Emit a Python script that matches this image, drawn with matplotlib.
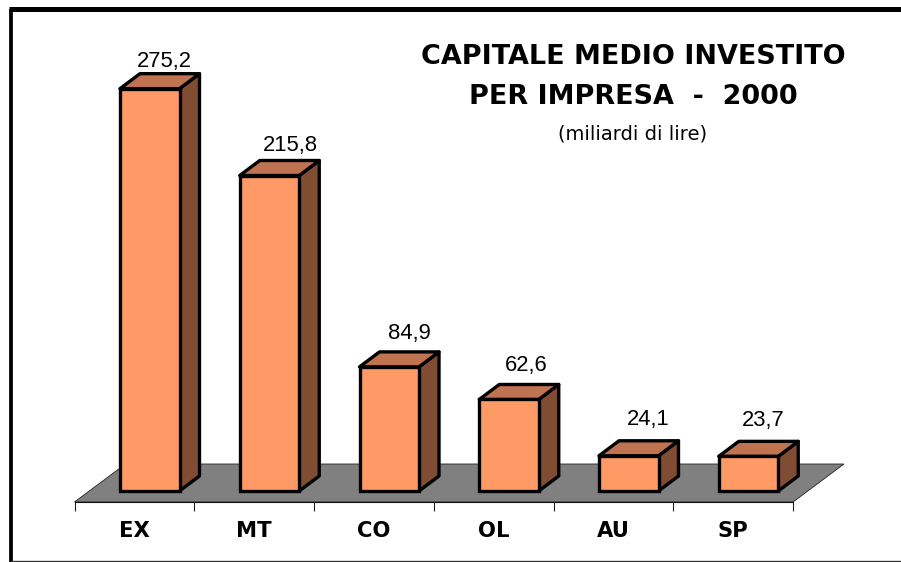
import matplotlib
matplotlib.use("Agg")
import matplotlib.pyplot as plt
from matplotlib.patches import Polygon
from matplotlib.lines import Line2D

categories = ["EX", "MT", "CO", "OL", "AU", "SP"]
values = [275.2, 215.8, 84.9, 62.6, 24.1, 23.7]
value_labels = ["275,2", "215,8", "84,9", "62,6", "24,1", "23,7"]

W, H = 901, 562
FRONT = "#FF9966"
SIDE = "#804D33"
TOP = "#BF7350"
FLOOR = "#808080"

# label placement relative to the bar's back-top corner centre, in pixels
label_nudge_x = [-5.5, 0.5, 0, -3, -1, -5]
label_gap_y = [12, 15, 18.5, 19, 21, 21]

fig = plt.figure(figsize=(W / 100, H / 100), dpi=100, facecolor="white")

x_left, x_right = 74.5, 793.0
px_per_cat = (x_right - x_left) / 6
px_per_val = 1.462
y_zero_px = 491.0
y_floor_px = 502.0
y_top_px = 20.0

ax = fig.add_axes([x_left / W, 1 - y_floor_px / H, (x_right - x_left) / W, (y_floor_px - y_top_px) / H])
floor_val = -(y_floor_px - y_zero_px) / px_per_val
ax.set_xlim(0, 6)
ax.set_ylim(floor_val, (y_zero_px - y_top_px) / px_per_val)
ax.patch.set_visible(False)
for s in ("top", "left", "right"):
    ax.spines[s].set_visible(False)
ax.spines["bottom"].set_linewidth(0.8)
ax.spines["bottom"].set_color("#111111")
ax.set_yticks([])
ax.set_xticks(range(7))
ax.set_xticklabels([])
ax.tick_params(axis="x", which="major", length=6.5, width=0.8, color="#222222")
ax.set_xticks([i + 0.5 for i in range(6)], minor=True)
ax.set_xticklabels(categories, minor=True, fontfamily="DejaVu Sans", fontweight="bold", fontsize=15.2)
ax.tick_params(axis="x", which="minor", length=0, pad=13.5)

dx = 20 / px_per_cat
dy = 15 / px_per_val
bar_w = 59.5 / px_per_cat
floor_back = (y_zero_px - 464) / px_per_val
floor_dx = (844 - 793) / px_per_cat

ax.add_patch(Polygon([(0, floor_val), (6, floor_val), (6 + floor_dx, floor_back), (floor_dx, floor_back)],
                     closed=True, facecolor=FLOOR, edgecolor="#222222", linewidth=0.6, clip_on=False, zorder=1))

lw = 2.4
for i, v in enumerate(values):
    l = i + 0.38
    r = l + bar_w
    ax.add_patch(Polygon([(r, 0), (r + dx, dy), (r + dx, v + dy), (r, v)], closed=True,
                         facecolor=SIDE, edgecolor="black", linewidth=lw, joinstyle="round", clip_on=False, zorder=3))
    ax.add_patch(Polygon([(l, v), (r, v), (r + dx, v + dy), (l + dx, v + dy)], closed=True,
                         facecolor=TOP, edgecolor="black", linewidth=lw, joinstyle="round", clip_on=False, zorder=3))
    ax.bar(l, v, width=bar_w, align="edge", color=FRONT, edgecolor="black", linewidth=lw, zorder=4, clip_on=False)
    ax.annotate(value_labels[i], (l + bar_w / 2 + dx, v + dy),
                xytext=(label_nudge_x[i] * 0.72, label_gap_y[i] * 0.72), textcoords="offset points",
                ha="center", va="center", fontfamily="Liberation Sans", fontsize=15.8, color="black", zorder=5)

fig.text(633 / W, 1 - 57.5 / H, "CAPITALE MEDIO INVESTITO", ha="center", va="center",
         fontfamily="DejaVu Sans", fontweight="bold", fontsize=19.45, color="black")
fig.text(633 / W, 1 - 96.5 / H, "PER IMPRESA  -  2000", ha="center", va="center",
         fontfamily="DejaVu Sans", fontweight="bold", fontsize=19.45, color="black")
fig.text(632.5 / W, 1 - 134 / H, "(miliardi di lire)", ha="center", va="center",
         fontfamily="DejaVu Sans", fontsize=14.0, color="black")

fig.add_artist(Line2D([10.8 / W, 10.8 / W], [1 - 9.3 / H, 0], color="black", lw=2.7, solid_capstyle="butt"))
fig.add_artist(Line2D([9 / W, 1], [1 - 9.3 / H, 1 - 9.3 / H], color="black", lw=3.6, solid_capstyle="butt"))
fig.add_artist(Line2D([10.8 / W, 1], [1 - 561.2 / H, 1 - 561.2 / H], color="#333333", lw=1.0))

fig.savefig("out.png", dpi=100)
